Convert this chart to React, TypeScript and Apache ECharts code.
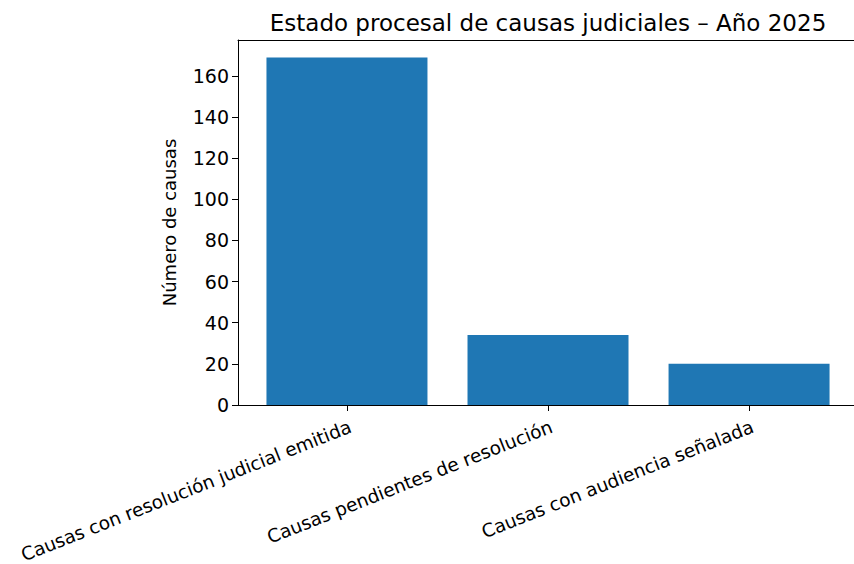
import React, { useEffect, useRef } from "react";
import * as echarts from "echarts";

const categories = [
  "Causas con resolución judicial emitida",
  "Causas pendientes de resolución",
  "Causas con audiencia señalada",
];
const values = [169, 34, 20];
const yTicks = [0, 20, 40, 60, 80, 100, 120, 140, 160];
const xTicks = [0, 1, 2];
const titleText = "Estado procesal de causas judiciales – Año 2025";
const yLabel = "Número de causas";

const FONT = "DejaVu Sans";
const X_MIN = -0.542;
const X_MAX = 2.522;

export default function App() {
  const ref = useRef<HTMLDivElement>(null);
  useEffect(() => {
    if (!ref.current) return;
    const chart = echarts.init(ref.current, null, { renderer: "svg" });
    chart.setOption({
      animation: false,
      backgroundColor: "#fff",
      textStyle: { fontFamily: FONT },
      grid: {
        left: 238,
        top: 40,
        width: 616,
        height: 365,
        outerBoundsMode: "none",
        containLabel: false,
        show: false,
      },
      graphic: [
        {
          type: "text",
          x: 548,
          y: 23,
          style: {
            text: titleText,
            fontFamily: FONT,
            fontSize: 23,
            fill: "#000",
            textAlign: "center",
            textVerticalAlign: "middle",
          },
        },
      ],
      xAxis: [
        {
          type: "value",
          min: X_MIN,
          max: X_MAX,
          splitLine: { show: false },
          axisLine: { show: true, onZero: false, lineStyle: { color: "#000" } },
          axisTick: {
            show: true,
            customValues: xTicks,
            length: 6,
            lineStyle: { color: "#000" },
          },
          axisLabel: {
            customValues: xTicks,
            rotate: 21.5,
            margin: 12,
            align: "right",
            verticalAlign: "top",
            fontSize: 18.5,
            color: "#000",
            fontFamily: FONT,
            formatter: (v: number) => categories[Math.round(v)] ?? "",
          },
        },
        {
          type: "value",
          position: "top",
          min: X_MIN,
          max: X_MAX,
          splitLine: { show: false },
          axisLine: { show: true, onZero: false, lineStyle: { color: "#000" } },
          axisTick: { show: false },
          axisLabel: { show: false },
        },
      ],
      yAxis: {
        type: "value",
        min: 0,
        max: 177.45,
        name: yLabel,
        nameLocation: "middle",
        nameRotate: 90,
        nameGap: 60,
        nameTextStyle: { fontSize: 18, color: "#000", fontFamily: FONT },
        splitLine: { show: false },
        axisLine: { show: true, onZero: false, lineStyle: { color: "#000" } },
        axisTick: {
          show: true,
          customValues: yTicks,
          length: 6,
          lineStyle: { color: "#000" },
        },
        axisLabel: {
          customValues: yTicks,
          margin: 9,
          fontSize: 19,
          color: "#000",
          fontFamily: FONT,
        },
      },
      series: [
        {
          type: "bar",
          xAxisIndex: 0,
          data: values.map((v, i) => [i, v]),
          barWidth: 161,
          itemStyle: { color: "#1f77b4" },
        },
      ],
    });
    return () => chart.dispose();
  }, []);
  return <div ref={ref} style={{ width: 854, height: 564, position: "absolute", left: 0, top: 0 }} />;
}
